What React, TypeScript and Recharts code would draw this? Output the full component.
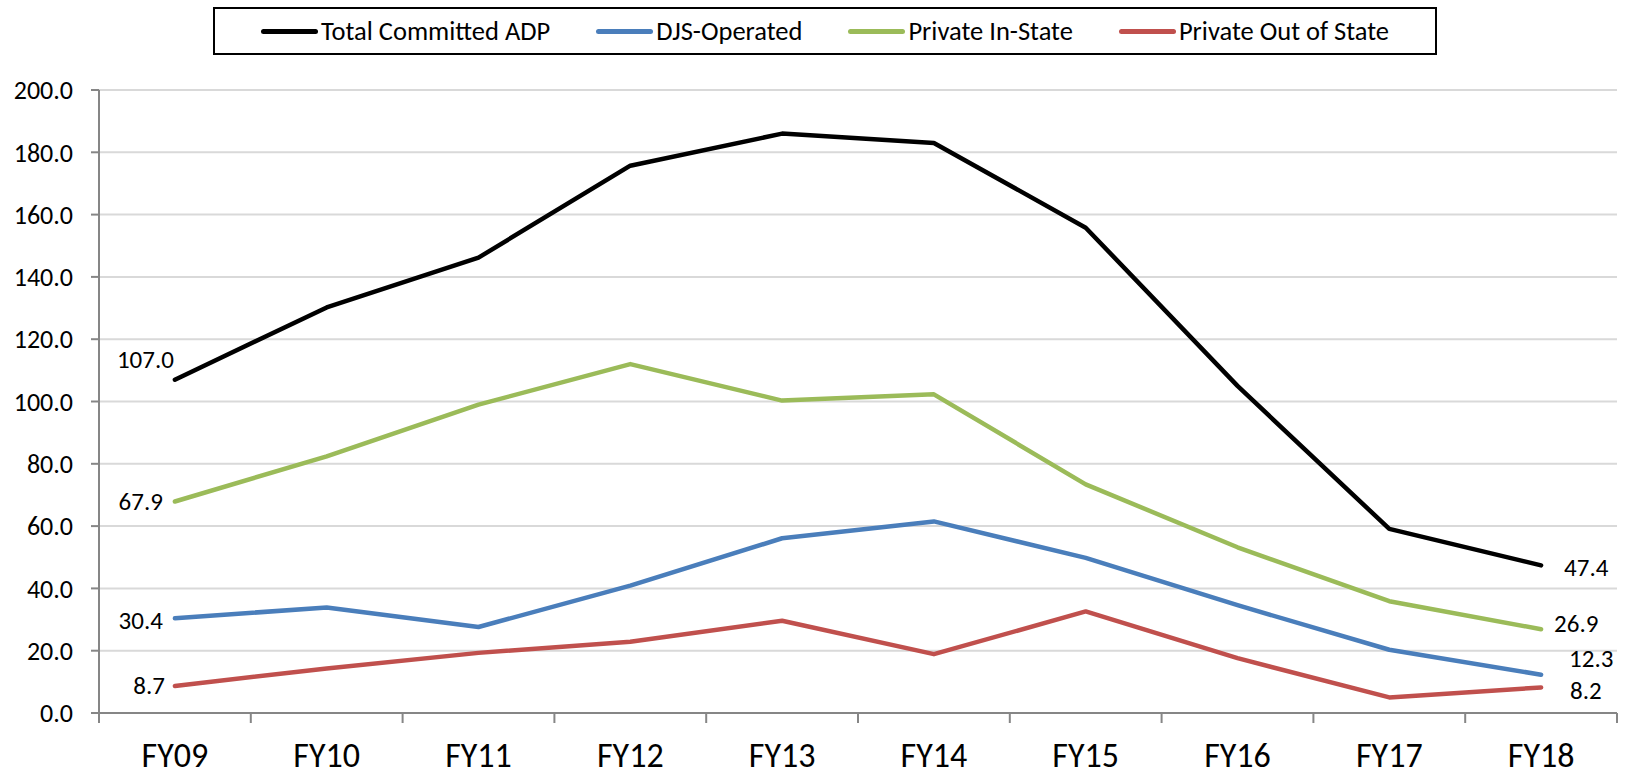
import React from "react";
import { LineChart, Line, XAxis, YAxis, CartesianGrid, Legend, LabelList } from "recharts";

// Committed ADP by fiscal year
const categories = ["FY09", "FY10", "FY11", "FY12", "FY13", "FY14", "FY15", "FY16", "FY17", "FY18"];
const totalCommitted = [107.0, 130.2, 146.2, 175.7, 186.0, 183.0, 155.8, 105.0, 59.1, 47.4];
const djsOperated = [30.4, 33.9, 27.6, 40.9, 56.1, 61.5, 49.8, 34.6, 20.3, 12.3];
const privateInState = [67.9, 82.4, 99.0, 112.0, 100.3, 102.3, 73.4, 53.2, 35.9, 26.9];
const privateOutOfState = [8.7, 14.3, 19.3, 22.9, 29.6, 18.9, 32.6, 17.6, 5.0, 8.2];
const yTicks = [0, 20, 40, 60, 80, 100, 120, 140, 160, 180, 200];

const CHART_W = 1625;
const CHART_H = 777;
const MARGIN = { top: 90, right: 8, left: 0, bottom: 0 };
const Y_AXIS_W = 99;
const X_AXIS_H = 64;
const AXIS_Y = CHART_H - MARGIN.bottom - X_AXIS_H;
const PLOT_W = CHART_W - MARGIN.left - MARGIN.right - Y_AXIS_W;
const HALF_BAND = PLOT_W / categories.length / 2;

const FONT = "Carlito, Lato, 'Open Sans', sans-serif";
const AXIS_GREY = "#868686";

// label offsets for the first / last point of each series (Excel placed them by hand)
const series = [
  { key: "total", name: "Total Committed ADP", color: "#000000", first: { dx: -1, dy: -20 }, last: { dx: 23, dy: 2 } },
  { key: "djs", name: "DJS-Operated", color: "#4A7EBB", first: { dx: -12, dy: 2 }, last: { dx: 28, dy: -16 } },
  { key: "inState", name: "Private In-State", color: "#9BBB59", first: { dx: -12, dy: 0 }, last: { dx: 13, dy: -6 } },
  { key: "outState", name: "Private Out of State", color: "#C0504D", first: { dx: -10, dy: 0 }, last: { dx: 29, dy: 3 } },
];

const data = categories.map((cat, i) => ({
  cat,
  total: totalCommitted[i],
  djs: djsOperated[i],
  inState: privateInState[i],
  outState: privateOutOfState[i],
}));

function XTick(props: any) {
  const { x, payload, index } = props;
  const isLast = index === categories.length - 1;
  return (
    <g>
      <line x1={x - HALF_BAND} x2={x - HALF_BAND} y1={AXIS_Y} y2={AXIS_Y + 10} stroke={AXIS_GREY} strokeWidth={2} />
      {isLast && (
        <line x1={x + HALF_BAND} x2={x + HALF_BAND} y1={AXIS_Y} y2={AXIS_Y + 10} stroke={AXIS_GREY} strokeWidth={2} />
      )}
      <text x={x} y={AXIS_Y + 54} textAnchor="middle" fontFamily={FONT} fontSize={34} fill="#000">
        {payload.value}
      </text>
    </g>
  );
}

const makeLabel = (s: (typeof series)[number]) => (props: any) => {
  const { x, y, value, index } = props;
  const last = categories.length - 1;
  if (index !== 0 && index !== last) return null;
  const off = index === 0 ? s.first : s.last;
  return (
    <text
      x={x + off.dx}
      y={y + off.dy}
      textAnchor={index === 0 ? "end" : "start"}
      dominantBaseline="central"
      fontFamily={FONT}
      fontSize={25}
      fill="#000"
    >
      {Number(value).toFixed(1)}
    </text>
  );
};

function LegendBox() {
  return (
    <div
      style={{
        boxSizing: "border-box",
        width: 1224,
        height: 48,
        border: "2px solid #000",
        display: "flex",
        alignItems: "center",
        justifyContent: "center",
        gap: 46,
        fontFamily: FONT,
        fontSize: 26.5,
        color: "#000",
        background: "#fff",
      }}
    >
      {series.map((s) => (
        <div key={s.key} style={{ display: "flex", alignItems: "center" }}>
          <span style={{ display: "inline-block", width: 57, height: 5, borderRadius: 3, background: s.color, marginRight: 3 }} />
          <span>{s.name}</span>
        </div>
      ))}
    </div>
  );
}

export default function App() {
  return (
    <div style={{ position: "absolute", left: 0, top: 0, background: "#fff" }}>
      <LineChart width={CHART_W} height={CHART_H} data={data} margin={MARGIN}>
        <CartesianGrid vertical={false} stroke="#D9D9D9" strokeWidth={2} />
        <XAxis
          dataKey="cat"
          height={X_AXIS_H}
          interval={0}
          padding={{ left: HALF_BAND, right: HALF_BAND }}
          axisLine={{ stroke: AXIS_GREY, strokeWidth: 2 }}
          tickLine={false}
          tick={<XTick />}
        />
        <YAxis
          width={Y_AXIS_W}
          domain={[0, 200]}
          ticks={yTicks}
          interval={0}
          tickFormatter={(v: number) => v.toFixed(1)}
          axisLine={{ stroke: AXIS_GREY, strokeWidth: 2 }}
          tickLine={{ stroke: AXIS_GREY, strokeWidth: 2 }}
          tickSize={8}
          tickMargin={18}
          tick={{ fontFamily: FONT, fontSize: 26, fill: "#000" }}
        />
        <Legend
          layout="horizontal"
          verticalAlign="middle"
          align="center"
          wrapperStyle={{ top: 7, left: 213, width: 1224, height: 48 }}
          content={() => <LegendBox />}
        />
        {series.map((s) => (
          <Line
            key={s.key}
            type="linear"
            dataKey={s.key}
            name={s.name}
            stroke={s.color}
            strokeWidth={4.5}
            strokeLinejoin="round"
            strokeLinecap="round"
            dot={false}
            activeDot={false}
            isAnimationActive={false}
          >
            <LabelList dataKey={s.key} content={makeLabel(s)} />
          </Line>
        ))}
      </LineChart>
    </div>
  );
}
